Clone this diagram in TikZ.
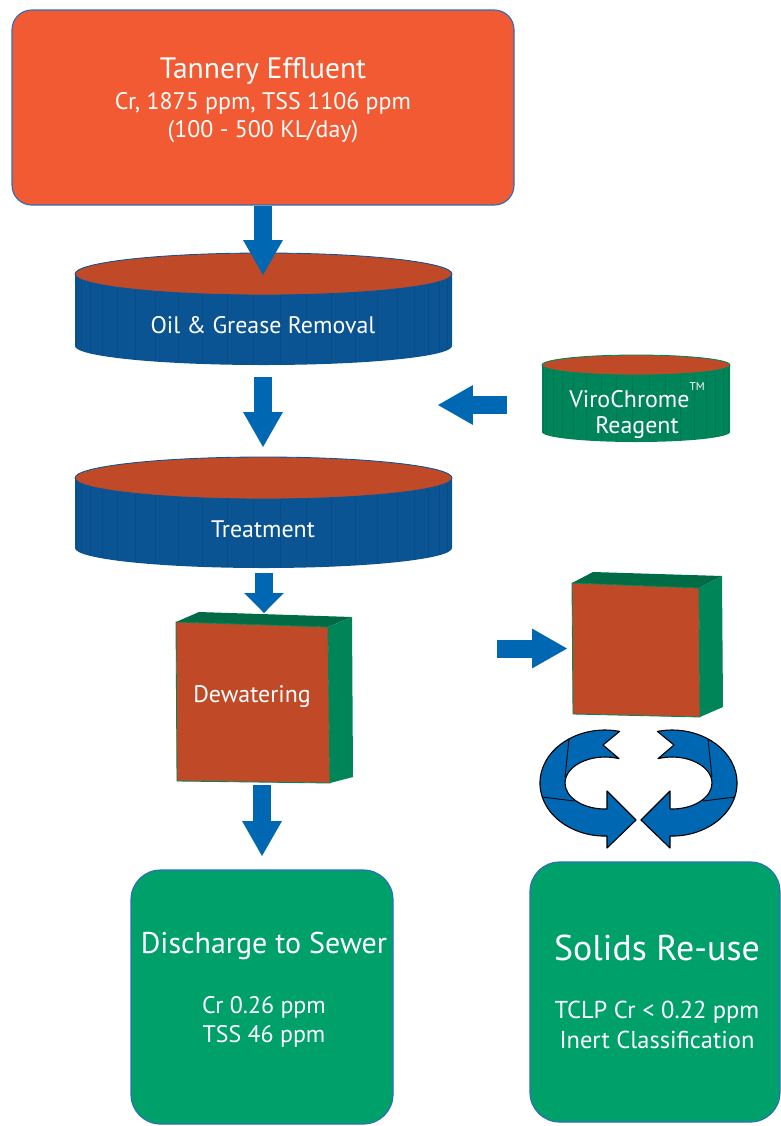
\documentclass[tikz,border=0pt]{standalone}
\usepackage{fontspec}
\setmainfont{PT Sans}
\usetikzlibrary{arrows.meta, fit}

\definecolor{effluent}{HTML}{F15A32}
\definecolor{brick}{HTML}{C04A27}
\definecolor{tankblue}{HTML}{0B5494}
\definecolor{tankgreen}{HTML}{00855A}
\definecolor{cubetop}{HTML}{006B45}
\definecolor{cubeside}{HTML}{008558}
\definecolor{outgreen}{HTML}{00A06B}
\definecolor{edgeblue}{HTML}{2A70B8}
\definecolor{flowblue}{HTML}{0068B3}

\begin{document}
\begin{tikzpicture}[
  x=0.025cm, y=-0.025cm,
  box/.style={draw=edgeblue, line width=0.8pt, rounded corners=14pt, inner sep=0pt},
  lbl/.style={text=white, inner sep=0pt, anchor=base, align=center},
  title/.style={lbl, font=\fontsize{21}{25}\selectfont},
  body/.style={lbl, font=\fontsize{17}{20}\selectfont},
  flow/.style={draw=flowblue, line width=12.8pt,
               -{Triangle[width=28.3pt, length=24.8pt, line width=0pt]}},
  flowstub/.style={draw=flowblue, line width=12.8pt,
               -{Triangle[width=28.3pt, length=14.2pt, line width=0pt]}},
  tankstripe/.style={line width=0.4pt, draw=black, opacity=0.09},
  cubeedge/.style={draw=cubeside, line width=0.6pt, line join=round},
  swirl/.style={fill=flowblue, draw=black, line width=0.8pt, line join=round},
  facet/.style={draw=black, line width=0.6pt},
]
  \useasboundingbox (0,0) rectangle (781,1126);

  % ---- Influent box ----
  \node[box, fill=effluent, fit={(12,10) (514,205)}] (tannery) {};
  \node[title] (tanneryTitle) at (263,78) {Tannery Effluent};
  % multi-line labels sit on the baseline of their last line
  \node[body, font=\fontsize{17}{19.8}\selectfont] (tanneryData) at (263,137)
    {Cr, 1875 ppm, TSS 1106 ppm\\(100 - 500 KL/day)};

  % ---- Oil & grease tank ----
  \fill[tankblue] (75,274) -- (75,346) arc[start angle=180, end angle=0, x radius=188.5, y radius=19]
    -- (452,274) -- cycle;
  \foreach \a in {7,15,...,173}
    \draw[tankstripe] ({263.5-188.5*cos(\a)},274) -- ({263.5-188.5*cos(\a)},{346+19*sin(\a)});
  \filldraw[fill=brick, draw=tankblue, line width=0.6pt] (263.5,274) ellipse[x radius=188.5, y radius=21];
  \node[body] (oil) at (263,333) {Oil \& Grease Removal};
  \coordinate (oilin)  at (263,275);
  \coordinate (oilout) at (263,377);

  % ---- Treatment tank ----
  \fill[tankblue] (75,478) -- (75,548) arc[start angle=180, end angle=0, x radius=188.5, y radius=20]
    -- (452,478) -- cycle;
  \foreach \a in {7,15,...,173}
    \draw[tankstripe] ({263.5-188.5*cos(\a)},478) -- ({263.5-188.5*cos(\a)},{548+20*sin(\a)});
  \filldraw[fill=brick, draw=tankblue, line width=0.6pt] (263.5,478) ellipse[x radius=188.5, y radius=21];
  \node[body] (treat) at (263,537) {Treatment};
  \coordinate (treatin)  at (263,447);
  \coordinate (treatout) at (264,573);

  % ---- Reagent drum ----
  \fill[tankgreen] (542,365) -- (542,432) arc[start angle=180, end angle=0, x radius=94, y radius=10]
    -- (730,365) -- cycle;
  \foreach \a in {8,18,...,172}
    \draw[tankstripe] ({636-94*cos(\a)},365) -- ({636-94*cos(\a)},{432+10*sin(\a)});
  \filldraw[fill=brick, draw=tankgreen, line width=0.6pt] (636,365) ellipse[x radius=94, y radius=10];
  \node[body, font=\fontsize{17}{18.4}\selectfont] (viro) at (637,433)
    {ViroChrome\raisebox{1.35ex}{\fontsize{8}{8}\selectfont TM}\\Reagent};
  \coordinate (viroout) at (507,405);
  \coordinate (viroin)  at (438,405);

  % ---- Dewatering press (cube) ----
  \fill[cubetop]  (176,622) -- (199,612) -- (352,617) -- (328,627) -- cycle;
  \fill[cubeside] (328,627) -- (352,617) -- (353,777) -- (330,783) -- cycle;
  \filldraw[fill=brick, cubeedge] (176,622) -- (328,627) -- (330,783) -- (177,781) -- cycle;
  \node[body] (dewater) at (252,702) {Dewatering};
  \coordinate (dewaterin)  at (264,613);
  \coordinate (dewaterout) at (262,785);

  % ---- Solids cake (cube) ----
  \fill[cubetop]  (572,583) -- (593,572) -- (722,576) -- (699,588) -- cycle;
  \fill[cubeside] (699,588) -- (722,576) -- (723,707) -- (700,717) -- cycle;
  \filldraw[fill=brick, cubeedge] (572,583) -- (699,588) -- (700,717) -- (573,714) -- cycle;
  \coordinate (cakeout) at (497,648.5);
  \coordinate (cakein)  at (567,648.5);

  % ---- Outlet boxes ----
  \node[box, fill=outgreen, rounded corners=21pt, fit={(131,870) (393,1124)}] (sewer) {};
  \node[lbl, font=\fontsize{21.3}{25}\selectfont] (sewerTitle) at (264,953) {Discharge to Sewer};
  \node[body, font=\fontsize{17}{20.5}\selectfont] (sewerData) at (264,1042) {Cr 0.26 ppm\\TSS 46 ppm};
  \coordinate (sewerin) at (262,856);

  \node[box, fill=outgreen, rounded corners=21pt, fit={(530,862) (780,1122)}] (reuse) {};
  \node[lbl, font=\fontsize{25.5}{30}\selectfont] (reuseTitle) at (657,960) {Solids Re-use};
  \node[body, font=\fontsize{17.4}{21}\selectfont] (reuseData) at (657,1048)
    {TCLP Cr < 0.22 ppm\\Inert Classification};

  % ==== FLOW ARROWS ====
  \draw[flow] (tannery.south) -- (oilin);
  \draw[flow] (oilout) -- (treatin);
  \draw[flow] (viroout) -- (viroin);
  \draw[flowstub] (treatout) -- (dewaterin);
  \draw[flow] (dewaterout) -- (sewerin);
  \draw[flow] (cakeout) -- (cakein);

  % ==== RECYCLE SYMBOL (two curved arrows, mirrored) ====
  \foreach \s/\d in {1/0, -1/1277} {
    \begin{scope}[shift={(\d,0)}, xscale=\s]
      \draw[swirl] (619.6,731.4) arc[start angle=-77, end angle=-270, x radius=65, y radius=53]
        -- (607,836) -- (607,848) -- (636,820) -- (607,791) -- (607,809) -- (605,809)
        arc[start angle=-270, end angle=-69.5, x radius=40, y radius=26]
        -- (603,745) -- cycle;
      \draw[facet] (569,739) -- (565,777);
      \draw[facet] (542,797) -- (574,801);
    \end{scope}
  }
\end{tikzpicture}
\end{document}
